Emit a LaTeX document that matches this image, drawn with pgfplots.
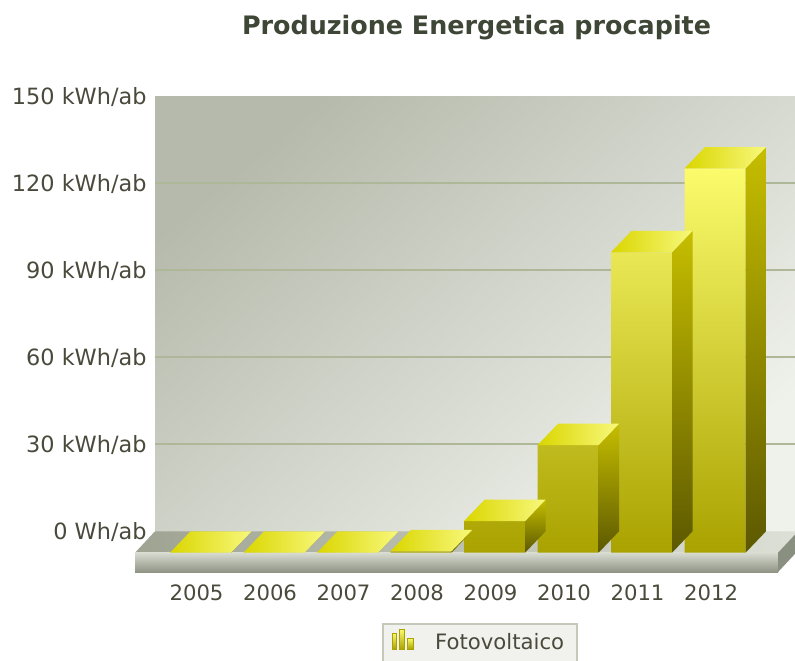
\documentclass[border=0pt]{standalone}
\usepackage{pgfplots}
\pgfplotsset{compat=1.18}
\usepackage{pgfplotstable}
\usepackage{fontspec}
\setmainfont{DejaVu Sans}
\pgfdeclareplotmark{nothing}{}
\definecolor{wallA}{HTML}{B6BAAC}
\definecolor{wallB}{HTML}{EFF1EB}
\definecolor{gridc}{HTML}{AEB898}
\definecolor{floorA}{HTML}{9FA392}
\definecolor{floorB}{HTML}{DCE0D6}
\definecolor{slabA}{HTML}{D8DBD0}
\definecolor{slabB}{HTML}{8F9485}
\definecolor{slabS}{HTML}{8A9080}
\definecolor{frontA}{HTML}{FBFB6C}
\definecolor{frontB}{HTML}{A9A200}
\definecolor{sideA}{HTML}{C6BE00}
\definecolor{sideB}{HTML}{5C5800}
\definecolor{topA}{HTML}{DAD600}
\definecolor{topB}{HTML}{F8F87C}
\definecolor{txt}{HTML}{4A4A3C}
\definecolor{ttl}{HTML}{3E4636}
\definecolor{legd}{HTML}{C5C9BB}
\definecolor{legf}{HTML}{F1F2EE}

\pgfplotstableread{
x v
0 0
1 0
2 0
3 0.5
4 10.9
5 37.1
6 103.6
7 132.5
}\datatable

\begin{document}
\begin{tikzpicture}
\begin{axis}[
  set layers,
  x=36.75pt, y=1.45pt,
  xmin=-0.619, xmax=8.13, ymin=-6.66, ymax=157.4,
  clip=false,
  axis line style={draw=none},
  tick style={draw=none},
  ytick={7.4,37.4,67.4,97.4,127.4,157.4},
  yticklabels={0 Wh/ab,30 kWh/ab,60 kWh/ab,90 kWh/ab,120 kWh/ab,150 kWh/ab},
  minor ytick={37.4,67.4,97.4,127.4},
  yminorgrids,
  minor grid style={gridc, line width=1pt},
  xtick={0,...,7},
  xticklabels={2005,2006,2007,2008,2009,2010,2011,2012},
  yticklabel style={anchor=base east, inner sep=0pt, xshift=-4pt, yshift=-4pt, font=\fontsize{11.2}{13}\selectfont, text=txt},
  xticklabel style={anchor=base, inner sep=0pt, xshift=-2pt, yshift=-14pt, font=\fontsize{10.6}{13}\selectfont, text=txt},
  title={Produzione Energetica procapite},
  title style={at={(0.5,1)}, anchor=base, yshift=25pt, font=\bfseries\fontsize{12.7}{15}\selectfont, text=ttl},
  legend style={at={(0.5054,-0.1072)}, anchor=north, draw=legd, fill=legf, line width=0.8pt,
    font=\fontsize{10.6}{12}\selectfont, text=txt, inner xsep=4.5pt, inner ysep=2.5pt},
]
% back wall
\addplot[on layer=axis background, draw=none, top color=wallA, bottom color=wallB, shading angle=40, forget plot]
  coordinates {(-0.619,7.4) (8.13,7.4) (8.13,157.4) (-0.619,157.4)} -- cycle;
% floor top
\addplot[draw=none, left color=floorA, right color=floorB, forget plot]
  coordinates {(-0.619,7.4) (8.13,7.4) (7.857,0) (-0.891,0)} -- cycle;
% slab front
\addplot[draw=none, top color=slabA, bottom color=slabB, forget plot]
  coordinates {(-0.891,0) (7.857,0) (7.857,-6.66) (-0.891,-6.66)} -- cycle;
% slab right side
\addplot[draw=none, fill=slabS, forget plot]
  coordinates {(7.857,0) (8.13,7.4) (8.13,0.74) (7.857,-6.66)} -- cycle;
% bar sides and tops
\addplot[scatter, only marks, mark=nothing, forget plot,
  visualization depends on={rawy \as \rawv},
  scatter/@pre marker code/.code={%
    \pgfmathsetmacro{\hh}{\rawv*1.45}%
    \pgfmathsetmacro{\ya}{10.7-\hh}%
    \pgfmathsetmacro{\yb}{-\hh}%
    \shade[draw=none, top color=sideA, bottom color=sideB] (15.25pt,0pt) -- (25.5pt,10.7pt) -- (25.5pt,\ya pt) -- (15.25pt,\yb pt) -- cycle;
    \shade[draw=none, left color=topA, right color=topB] (-15.25pt,0pt) -- (15.25pt,0pt) -- (25.5pt,10.7pt) -- (-5pt,10.7pt) -- cycle;
  },
  scatter/@post marker code/.code={}
] table[x=x,y=v]{\datatable};
% bar fronts
\addplot[ybar, bar width=0.83, bar shift=0pt, draw=none, top color=frontA, bottom color=frontB,
  legend image code/.code={%
    \fill[yellow!85!olive, draw=frontB, line width=0.3pt] (0pt,-3pt) rectangle (2.2pt,5pt);
    \fill[yellow!85!olive, draw=frontB, line width=0.3pt] (3.6pt,-3pt) rectangle (6pt,7pt);
    \fill[yellow!85!olive, draw=frontB, line width=0.3pt] (7.6pt,-3pt) rectangle (10.4pt,2.5pt);
    \path (0pt,0pt) -- (19.5pt,0pt);
  }
] table[x=x,y=v]{\datatable};
\addlegendentry{Fotovoltaico}
\coordinate (bbll) at (axis cs:-2.728,-37.0);
\coordinate (bbur) at (axis cs:8.088,190.59);
\end{axis}
\pgfresetboundingbox
\path[use as bounding box] (bbll) rectangle (bbur);
\end{tikzpicture}
\end{document}
